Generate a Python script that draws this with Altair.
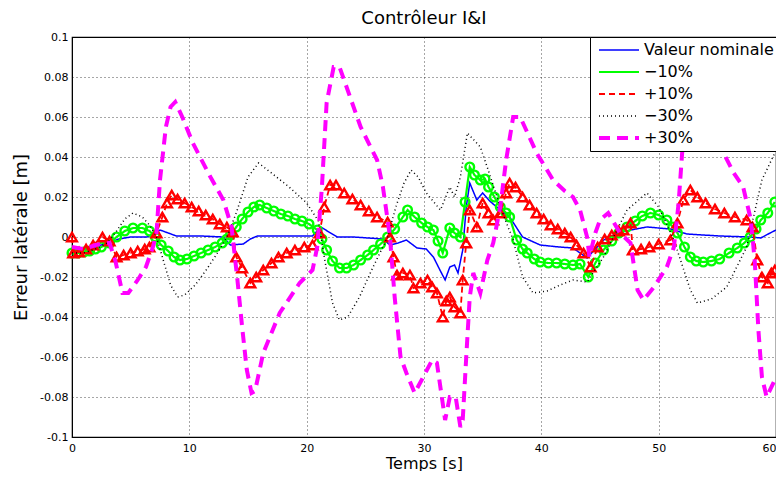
import altair as alt
import pandas as pd

series_names = ["Valeur nominale", "−10%", "+10%", "−30%", "+30%"]
colors = ["#0000ff", "#00ff00", "#ff0000", "#000000", "#ff00ff"]
dashes = [[1, 0], [1, 0], [6, 4], [1, 3], [11, 7]]
widths = [1.5, 2.2, 1.8, 1.5, 4]

x_ticks = [0, 10, 20, 30, 40, 50, 60]
y_ticks = [-0.1, -0.08, -0.06, -0.04, -0.02, 0, 0.02, 0.04, 0.06, 0.08, 0.1]

# Valeur nominale
t_nom = [0, 1, 2, 3, 4, 5, 6.4, 7.5, 8.9, 11, 12.9, 13.5, 14.6, 15.2, 15.8, 18, 20.5, 21.2,
         22.6, 24, 26.5, 27.1, 27.8, 28.5, 29.4, 30.2, 30.8, 31.4, 31.8, 32.2, 32.6, 32.9, 33.3,
         33.6, 33.9, 34.5, 35, 35.6, 36.2, 37.3, 38.4, 39.9, 41.5, 42.7, 43.9, 45.3, 46.5, 47.6,
         49, 51, 52.4, 55.2, 57.8, 58.7, 59.5, 60]
v_nom = [-0.007, -0.006, -0.005, -0.003, -0.001, 0, 0, 0.0035, 0.0005, 0.0005, 0, -0.004, -0.0035,
         -0.001, 0.0005, 0.0005, 0.0005, 0.005, 0, 0, -0.001, -0.004, -0.003, -0.0015, -0.0055,
         -0.006, -0.01, -0.017, -0.0215, -0.015, -0.014, -0.018, -0.0065, 0.015, 0.027, 0.0185,
         0.022, 0.018, 0.015, 0.01, 0, -0.004, -0.005, -0.0055, -0.0105, -0.0015, 0.002, 0.0035,
         0.005, 0.004, 0.0015, 0.0005, 0, -0.0005, 0.002, 0.0035]

# -10 %
t_m10 = [0, 0.5, 1, 1.5, 2, 2.5, 3.2, 3.8, 4.5, 5.2, 6, 6.6, 7.1, 7.6, 8.2, 8.7, 9.2, 9.8, 10.4,
         11, 11.6, 12.2, 12.8, 13.2, 13.5, 14, 14.5, 15, 15.5, 16, 16.6, 17.2, 17.8, 18.4, 19,
         19.6, 20.2, 20.9, 21.3, 21.7, 22.2, 22.8, 23.4, 24, 24.6, 25.2, 25.7, 26.3, 26.9, 27.5,
         28.2, 28.6, 29.2, 29.8, 30.3, 30.8, 31.2, 31.6, 32.2, 32.6, 33.1, 33.5, 33.9, 34.3, 34.8,
         35.2, 35.5, 36, 36.5, 37, 37.3, 37.9, 38.4, 38.8, 39.4, 39.9, 40.6, 41.3, 42, 42.7, 43.3,
         44, 44.6, 45.3, 46, 46.6, 47.3, 48, 48.6, 49.3, 50, 50.7, 51.2, 51.6, 52.2, 52.7, 53.2,
         53.8, 54.5, 55.2, 56, 56.7, 57.3, 57.8, 58.3, 58.7, 59.3, 59.9]
v_m10 = [-0.008, -0.008, -0.0075, -0.007, -0.006, -0.005, -0.003, 0.0, 0.003, 0.0045, 0.0045,
         0.003, 0.0, -0.004, -0.007, -0.01, -0.0115, -0.011, -0.0095, -0.008, -0.0065, -0.005,
         -0.003, -0.001, 0.001, 0.005, 0.009, 0.0125, 0.015, 0.016, 0.0145, 0.013, 0.0115, 0.0105,
         0.009, 0.008, 0.0065, 0.0035, -0.001, -0.0065, -0.012, -0.0155, -0.0155, -0.014, -0.0115,
         -0.009, -0.0065, -0.0035, 0.0, 0.004, 0.01, 0.0135, 0.01, 0.007, 0.005, 0.0035, -0.002,
         -0.008, 0.0045, 0.002, 0.0, 0.0175, 0.035, 0.031, 0.0285, 0.029, 0.025, 0.02, 0.015,
         0.012, 0.01, -0.0015, -0.006, -0.008, -0.011, -0.0125, -0.013, -0.013, -0.0135, -0.014,
         -0.0135, -0.02, -0.013, -0.0065, -0.002, 0.002, 0.005, 0.008, 0.0105, 0.012, 0.011,
         0.0085, 0.005, 0.002, -0.005, -0.01, -0.012, -0.0125, -0.012, -0.011, -0.008, -0.0055,
         -0.003, 0.0, 0.004, 0.0085, 0.012, 0.0175]

# +10 %
t_p10 = [0, 0.1, 0.6, 1.2, 1.8, 2.6, 3.2, 3.8, 4.4, 5, 5.6, 6.2, 6.6, 7.2, 7.7, 8.1, 8.5, 9, 9.6,
         10.2, 10.8, 11.4, 12, 12.6, 13.2, 13.7, 14, 14.5, 15.2, 15.7, 16.3, 17, 17.6, 18.3, 19,
         19.8, 20.5, 21.1, 21.5, 22, 22.5, 23.2, 23.9, 24.6, 25.3, 26, 26.9, 27.1, 27.4, 27.7,
         28.2, 28.8, 29.1, 29.7, 30.3, 30.7, 31.1, 31.6, 31.9, 32.2, 32.6, 33.1, 33.3, 33.6, 33.9,
         34.5, 35, 35.5, 35.9, 36.5, 37, 37.3, 37.8, 38.4, 39, 39.6, 40.2, 40.8, 41.4, 42, 42.5,
         43, 43.6, 44.2, 44.8, 45.4, 46, 46.6, 47, 47.6, 47.8, 48.5, 49.2, 50, 51, 51.6, 52.1,
         52.7, 53.3, 54, 54.8, 55.6, 56.5, 57.5, 58, 58.4, 58.8, 59.3, 59.6, 59.9]
v_p10 = [0.0, -0.008, -0.0075, -0.006, -0.004, 0.0, -0.002, -0.01, -0.009, -0.008, -0.007,
         -0.006, -0.005, 0.002, 0.01, 0.017, 0.021, 0.019, 0.017, 0.015, 0.013, 0.011, 0.009,
         0.0065, 0.005, 0.0025, -0.01, -0.0155, -0.023, -0.02, -0.0165, -0.013, -0.01, -0.008,
         -0.0065, -0.005, -0.004, 0.002, 0.015, 0.026, 0.026, 0.022, 0.019, 0.016, 0.013, 0.01,
         0.0075, 0.0, -0.01, -0.019, -0.018, -0.019, -0.0255, -0.023, -0.0215, -0.025, -0.028,
         -0.04, -0.032, -0.03, -0.035, -0.038, -0.0215, -0.003, 0.0135, 0.005, 0.017, 0.012,
         0.0085, 0.012, 0.022, 0.027, 0.025, 0.02, 0.016, 0.012, 0.009, 0.006, 0.004, 0.002, 0.0,
         -0.004, -0.008, -0.015, -0.005, -0.001, 0.001, 0.003, 0.0035, 0.007, -0.0065, -0.006,
         -0.005, -0.0035, -0.0015, 0.007, 0.0185, 0.0235, 0.02, 0.017, 0.014, 0.012, 0.01,
         0.0085, 0.005, -0.0115, -0.02, -0.023, -0.018, -0.0165]

# -30 %
t_m30 = [0, 1, 2, 3, 3.8, 4.5, 5.2, 6, 6.6, 7.2, 7.8, 8.4, 9, 9.6, 10.5, 11.5, 12.5, 13.2, 14, 15,
         15.9, 17, 18.5, 20, 21, 21.5, 22.2, 22.8, 23.5, 24.5, 25.5, 26.9, 27.6, 28.3, 28.9, 29.5,
         30.2, 31.4, 32.2, 32.6, 33.1, 33.7, 34.8, 35.5, 36.5, 37.6, 38.4, 39.3, 40.5, 41.6, 42.7,
         43.9, 45.3, 47.3, 49, 50, 51.3, 52.7, 53.3, 54.5, 55.8, 57.5, 58.8, 59.9]
v_m30 = [-0.008, -0.008, -0.006, -0.003, 0.003, 0.009, 0.012, 0.01, 0.006, 0.0, -0.012, -0.024,
         -0.03, -0.029, -0.024, -0.016, -0.007, 0.0, 0.012, 0.03, 0.037, 0.032, 0.025, 0.017,
         0.008, -0.01, -0.033, -0.0415, -0.04, -0.03, -0.017, 0.0, 0.015, 0.027, 0.0335, 0.03,
         0.022, 0.0135, 0.025, 0.02, 0.03, 0.052, 0.045, 0.033, 0.015, -0.0015, -0.02, -0.028,
         -0.027, -0.024, -0.0215, -0.0225, -0.01, 0.0135, 0.022, 0.015, -0.0015, -0.0265, -0.033,
         -0.031, -0.025, -0.005, 0.0285, 0.042]

# +30 %
t_p30 = [0, 1, 2, 3.2, 3.7, 4.3, 4.8, 5.6, 6.3, 6.9, 7.2, 7.5, 8.0, 8.4, 8.8, 9.4, 10.3, 11.0,
         11.8, 12.9, 13.6, 14.1, 14.5, 14.9, 15.3, 15.6, 16.3, 17.7, 19.4, 20.5, 20.9, 21.3, 21.7,
         22.3, 22.8, 23.7, 24.6, 26, 26.5, 26.9, 27.1, 27.5, 28.0, 28.5, 29.2, 29.8, 30.7, 31.1,
         31.8, 32.2, 32.7, 33.1, 33.3, 33.6, 33.9, 34.2, 34.8, 35.4, 35.9, 36.5, 37.0, 37.6, 38.2,
         39.6, 41, 42, 42.7, 43.3, 43.9, 44.1, 44.6, 45.0, 45.7, 46.7, 47.6, 48.2, 48.7, 49.6,
         50.7, 51.3, 51.7, 52.0, 52.5, 53.3, 54.3, 55.4, 56.4, 57.2, 57.8, 58.0, 58.2, 58.5, 58.8,
         59.2, 59.9]
v_p30 = [-0.005, -0.006, -0.004, -0.003, -0.012, -0.028, -0.028, -0.0215, -0.015, -0.005, 0.002,
         0.0285, 0.055, 0.065, 0.0675, 0.06, 0.047, 0.039, 0.03, 0.0185, 0.005, -0.0215, -0.045,
         -0.0665, -0.078, -0.077, -0.058, -0.038, -0.023, -0.0165, -0.005, 0.025, 0.067, 0.085,
         0.085, 0.07, 0.055, 0.0385, 0.025, 0.0085, 0.0, -0.03, -0.06, -0.068, -0.078, -0.0715,
         -0.0615, -0.063, -0.0915, -0.08, -0.08, -0.095, -0.0915, -0.06, -0.03, -0.018, -0.028,
         -0.0115, -0.003, 0.015, 0.0385, 0.06, 0.06, 0.042, 0.0285, 0.023, 0.02, 0.0135, 0.0,
         -0.01, 0.002, 0.0085, 0.012, 0.002, -0.003, -0.0265, -0.0315, -0.025, -0.015, -0.005,
         0.017, 0.042, 0.058, 0.063, 0.055, 0.0435, 0.032, 0.025, 0.01, 0.0, -0.013, -0.0465,
         -0.07, -0.08, -0.0715]

all_t = [t_nom, t_m10, t_p10, t_m30, t_p30]
all_v = [v_nom, v_m10, v_p10, v_m30, v_p30]

frames = []
for name, tt, vv in zip(series_names, all_t, all_v):
    frames.append(pd.DataFrame({"t": tt, "v": vv, "serie": name}))
df = pd.concat(frames, ignore_index=True)

FONT = "DejaVu Sans"

x_enc = alt.X("t:Q", scale=alt.Scale(domain=[0, 60], nice=False, zero=False),
              axis=alt.Axis(values=x_ticks, title="Temps [s]", format="d",
                            labelAlign={"condition": {"test": "datum.value == 60", "value": "right"},
                                        "value": "center"}))
y_enc = alt.Y("v:Q", scale=alt.Scale(domain=[-0.1, 0.1], nice=False, zero=False),
              axis=alt.Axis(values=y_ticks, title="Erreur latérale [m]",
                            labelExpr="replace(format(datum.value, '~g'), '−', '-')",
                            titleFontSize=18))

legend = alt.Legend(title=None, orient="top-right", offset=0, fillColor="white",
                    strokeColor="black", padding=2, symbolOffset=5, symbolType="stroke",
                    symbolSize=1600, clipHeight=22, labelFontSize=16, labelFont=FONT,
                    labelOffset=3, rowPadding=0, zindex=1, labelLimit=300)

color_enc = alt.Color("serie:N", scale=alt.Scale(domain=series_names, range=colors), legend=legend)
dash_enc = alt.StrokeDash("serie:N", scale=alt.Scale(domain=series_names, range=dashes), legend=legend)
width_enc = alt.StrokeWidth("serie:N", scale=alt.Scale(type="ordinal", domain=series_names, range=widths),
                            legend=legend)

base = alt.Chart(df)

layers = []
for name in series_names:
    line = base.transform_filter(alt.datum.serie == name).mark_line().encode(
        x=x_enc, y=y_enc, color=color_enc, strokeDash=dash_enc, strokeWidth=width_enc)
    layers.append(line)
    if name == "−10%":
        layers.append(base.transform_filter(alt.datum.serie == name).mark_point(
            shape="circle", filled=False, size=75, strokeWidth=2.4, color="#00ff00", opacity=1
        ).encode(x=x_enc, y=y_enc))
    if name == "+10%":
        layers.append(base.transform_filter(alt.datum.serie == name).mark_point(
            shape="triangle-up", filled=False, size=95, strokeWidth=2.4, color="#ff0000", opacity=1
        ).encode(x=x_enc, y=y_enc))

chart = alt.layer(*layers).properties(
    width=704, height=400,
    autosize=alt.AutoSizeParams(type="none"),
    padding={"left": 64, "top": 29, "right": 0, "bottom": 34},
    title=alt.Title("Contrôleur I&I", fontSize=18, font=FONT, fontWeight="normal", offset=3,
                    color="black"),
).configure_view(stroke="black", strokeWidth=1.2).configure_axis(
    grid=True, gridDash=[1, 3], gridColor="#000000", gridOpacity=0.7, gridWidth=1,
    domainColor="black", ticks=False, labelFont=FONT, labelFontSize=11, labelColor="black",
    titleFont=FONT, titleFontSize=16, titleFontWeight="normal", titleColor="black",
    labelPadding=4,
).configure_axisY(titlePadding=9).configure_axisX(titlePadding=2, labelPadding=5)

chart.save("out.html", embed_options={"renderer": "svg", "actions": False})
